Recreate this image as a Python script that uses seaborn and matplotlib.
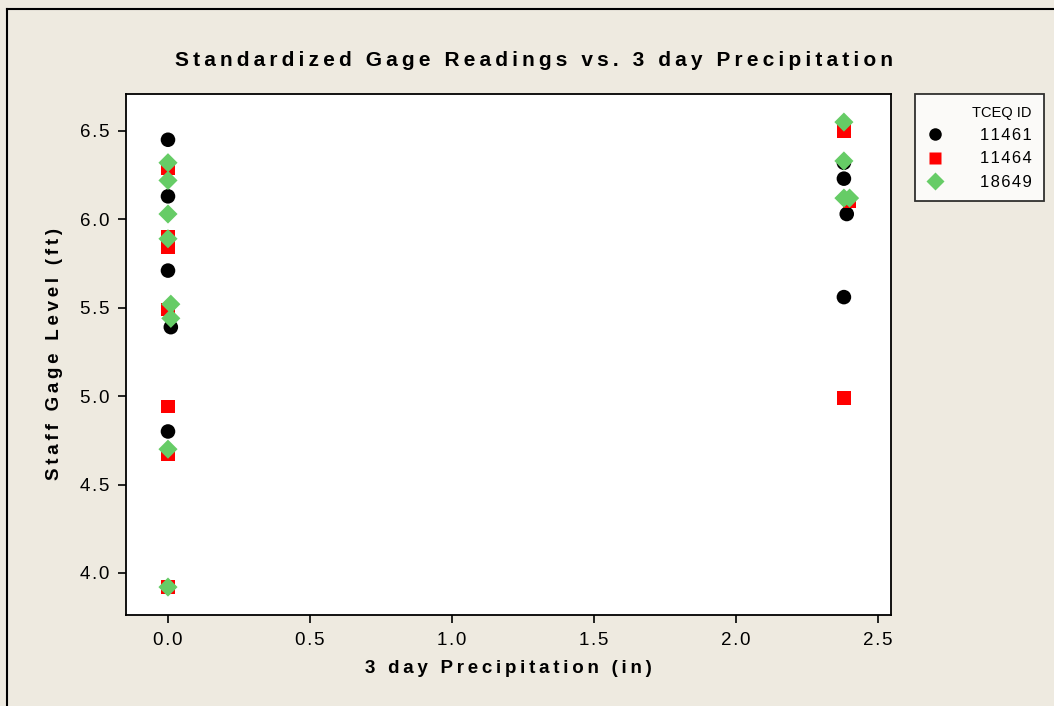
import pandas as pd
import matplotlib
matplotlib.use("Agg")
import matplotlib.pyplot as plt
import seaborn as sns
from matplotlib.lines import Line2D

# values
precip_11461 = [0.0, 0.0, 0.0, 0.01, 0.0, 0.0, 2.38, 2.38, 2.39, 2.38]
gage_11461 = [6.45, 6.13, 5.71, 5.39, 4.80, 3.92, 6.32, 6.23, 6.03, 5.56]

precip_11464 = [0.0, 0.0, 0.0, 0.0, 0.0, 0.0, 0.0, 2.38, 2.40, 2.38]
gage_11464 = [6.29, 5.90, 5.84, 5.49, 4.94, 4.67, 3.92, 6.50, 6.10, 4.99]

precip_18649 = [0.0, 0.0, 0.0, 0.0, 0.01, 0.01, 0.0, 0.0, 2.38, 2.38, 2.38, 2.40]
gage_18649 = [6.32, 6.22, 6.03, 5.89, 5.52, 5.44, 4.70, 3.92, 6.55, 6.33, 6.12, 6.12]

ids = ["11461", "11464", "18649"]
colors = {"11461": "#000000", "11464": "#ff0000", "18649": "#66cc66"}
markers = {"11461": "o", "11464": "s", "18649": "D"}
sizes = {"11461": 110, "11464": 95, "18649": 95}

df = pd.concat([
    pd.DataFrame({"precip": precip_11461, "gage": gage_11461, "id": "11461"}),
    pd.DataFrame({"precip": precip_11464, "gage": gage_11464, "id": "11464"}),
    pd.DataFrame({"precip": precip_18649, "gage": gage_18649, "id": "18649"}),
])

fam = ["Liberation Sans", "DejaVu Sans"]


def spaced(s, sep="\u2009"):
    # wide letter spacing like the original chart software
    return sep.join(s)


bg = "#eeeae0"
fig = plt.figure(figsize=(10.54, 7.06), dpi=100, facecolor=bg)
ax = fig.add_axes([0.1195, 0.1289, 0.7259, 0.738])
ax.set_facecolor("white")

for sid in ids:
    sub = df[df["id"] == sid]
    sns.scatterplot(data=sub, x="precip", y="gage", color=colors[sid],
                    marker=markers[sid], s=sizes[sid], edgecolor="none",
                    ax=ax, legend=False)

ax.set_xlim(-0.148, 2.546)
ax.set_ylim(3.762, 6.709)
xt = [0.0, 0.5, 1.0, 1.5, 2.0, 2.5]
yt = [4.0, 4.5, 5.0, 5.5, 6.0, 6.5]
ax.set_xticks(xt)
ax.set_yticks(yt)
ax.set_xticklabels([spaced(f"{v:.1f}", "\u200a") for v in xt])
ax.set_yticklabels([spaced(f"{v:.1f}", "\u200a") for v in yt])
ax.tick_params(direction="out", length=6, width=1.2, labelsize=13.5,
               colors="black", pad=6)
for lab in ax.get_xticklabels() + ax.get_yticklabels():
    lab.set_fontfamily(fam)
for sp in ax.spines.values():
    sp.set_linewidth(1.3)
    sp.set_color("black")

ax.set_xlabel(spaced("3 day Precipitation (in)"), fontsize=13.5, fontweight="bold",
              family=fam, labelpad=8)
ax.set_ylabel(spaced("Staff Gage Level (ft)"), fontsize=13.5, fontweight="bold",
              family=fam, labelpad=12)

fig.text(534 / 1054, 1 - 61 / 706,
         spaced("Standardized Gage Readings vs. 3 day Precipitation"),
         ha="center", va="center", fontsize=15, fontweight="bold", family=fam)

handles = [Line2D([], [], linestyle="none", marker=markers[s], color=colors[s],
                  markersize=9, markeredgecolor="none")
           for s in ids]
leg = fig.legend(handles, [spaced(s, "\u200a") for s in ids], title="TCEQ ID",
                 loc="upper left",
                 bbox_to_anchor=(915 / 1054, 1 - 94 / 706), frameon=True,
                 fancybox=False, edgecolor="black", facecolor="white",
                 prop={"family": fam, "size": 12},
                 title_fontproperties={"family": fam, "size": 10.5},
                 handletextpad=2.2, labelspacing=0.5, borderpad=0.7,
                 handlelength=1.0, borderaxespad=0)
leg.get_frame().set_linewidth(1.3)
leg._legend_box.align = "right"

# outer frame lines (left and top only visible in the reference)
fig.add_artist(Line2D([7 / 1054, 7 / 1054], [0, 1 - 9 / 706], color="black",
                      lw=1.5, transform=fig.transFigure))
fig.add_artist(Line2D([7 / 1054, 1], [1 - 9 / 706, 1 - 9 / 706], color="black",
                      lw=1.5, transform=fig.transFigure))

fig.savefig("out.png", dpi=100, facecolor=bg)
